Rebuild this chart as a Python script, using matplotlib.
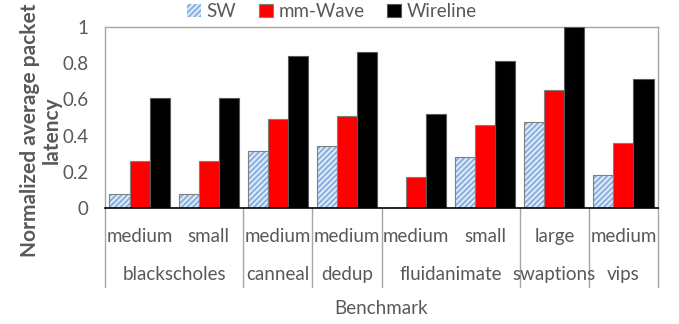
import matplotlib
matplotlib.use("Agg")
from matplotlib import pyplot as plt
from matplotlib.patches import Patch
import numpy as np

# data
sizes = ["medium", "small", "medium", "medium", "medium", "small", "large", "medium"]
benchmarks = ["blackscholes", "canneal", "dedup", "fluidanimate", "swaptions", "vips"]
bench_counts = [2, 1, 1, 2, 1, 1]

sw = [0.08, 0.08, 0.315, 0.34, 0.0, 0.28, 0.475, 0.18]
mmwave = [0.26, 0.26, 0.49, 0.51, 0.17, 0.46, 0.65, 0.36]
wireline = [0.61, 0.61, 0.84, 0.86, 0.52, 0.81, 1.0, 0.71]

grey = "#595959"
plt.rcParams["font.family"] = ["Lato", "DejaVu Sans"]
plt.rcParams["hatch.linewidth"] = 1.4

fig = plt.figure(figsize=(6.79, 3.24), dpi=100)
ax = fig.add_axes([105 / 679, 1 - 208 / 324, 553 / 679, 181 / 324])

x = np.arange(len(sizes)) + 0.5
w = 0.29

# SW bars: light blue with diagonal stripes
ax.bar(x - w, sw, w, color="#e2ecf8", hatch="//////", edgecolor="#86aee0",
       linewidth=0, zorder=2)
ax.bar(x - w, sw, w, fill=False, edgecolor="#7f7f7f", linewidth=0.8, zorder=3)
ax.bar(x, mmwave, w, color="#ff0000", edgecolor="#7f7f7f", linewidth=0.8, zorder=3)
ax.bar(x + w, wireline, w, color="#000000", edgecolor="#595959", linewidth=0.8,
       zorder=3)

handles = [Patch(facecolor="#e2ecf8", hatch="//////", edgecolor="#86aee0", linewidth=0),
           Patch(facecolor="#ff0000", edgecolor="#7f7f7f", linewidth=0.8),
           Patch(facecolor="#000000", edgecolor="#595959", linewidth=0.8)]
leg = ax.legend(handles, ["SW", "mm-Wave", "Wireline"], loc="center",
                bbox_to_anchor=(0.41, 1.085), ncol=3, frameon=False,
                handlelength=0.75, handleheight=0.75, handletextpad=0.3,
                columnspacing=1.2, fontsize=13.5)
for t in leg.get_texts():
    t.set_color(grey)

ax.set_xlim(0, len(sizes))
ax.set_ylim(0, 1)
ax.set_yticks([0, 0.2, 0.4, 0.6, 0.8, 1.0])
ax.set_yticklabels(["0", "0.2", "0.4", "0.6", "0.8", "1"])
ax.tick_params(axis="y", length=0, pad=12, labelsize=13.5, labelcolor=grey)
ax.set_xticks([])

for s in ["left", "top", "right"]:
    ax.spines[s].set_color("#a6a6a6")
    ax.spines[s].set_linewidth(1.0)
ax.spines["bottom"].set_color("#000000")
ax.spines["bottom"].set_linewidth(1.2)
ax.spines["bottom"].set_zorder(4)

trans = ax.get_xaxis_transform()
for xi, s in zip(x, sizes):
    ax.text(xi, -0.155, s, transform=trans, ha="center", va="center",
            fontsize=13.5, color=grey)

edges = np.concatenate([[0], np.cumsum(bench_counts)])
for b, lo, hi in zip(benchmarks, edges[:-1], edges[1:]):
    ax.text((lo + hi) / 2, -0.37, b, transform=trans, ha="center", va="center",
            fontsize=13.5, color=grey)
for e in edges:
    ax.plot([e, e], [0, -0.435], transform=trans, color="#a6a6a6",
            linewidth=1.0, clip_on=False)

ax.text(0.5, -0.555, "Benchmark", transform=ax.transAxes, ha="center",
        va="center", fontsize=13.5, color=grey)

fig.text(41 / 679, 1 - 130 / 324, "Normalized average packet\nlatency",
         rotation=90, ha="center", va="center", multialignment="center",
         fontsize=15, fontweight="bold", color=grey, linespacing=1.15)

fig.savefig("out.png", dpi=100)
